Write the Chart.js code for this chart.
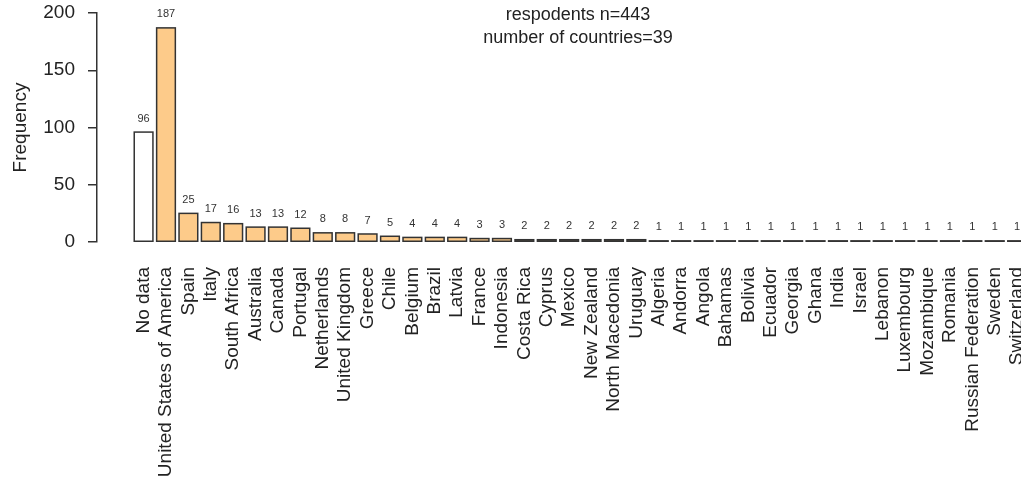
<!DOCTYPE html>
<html>
<head>
<meta charset="utf-8">
<title>Respondents by country</title>
<script src="https://cdn.jsdelivr.net/npm/chart.js@4.4.1/dist/chart.umd.min.js"></script>
<style>
  html, body { margin: 0; padding: 0; background: #fff; overflow: hidden; }
  #wrap { width: 1100px; height: 477px; }
</style>
</head>
<body>
<div id="wrap"><canvas id="countryChart" width="1100" height="477"></canvas></div>
<script>
const categories = [
  "No data", "United States of America", "Spain", "Italy", "South Africa",
  "Australia", "Canada", "Portugal", "Netherlands", "United Kingdom",
  "Greece", "Chile", "Belgium", "Brazil", "Latvia", "France", "Indonesia",
  "Costa Rica", "Cyprus", "Mexico", "New Zealand", "North Macedonia",
  "Uruguay", "Algeria", "Andorra", "Angola", "Bahamas", "Bolivia", "Ecuador",
  "Georgia", "Ghana", "India", "Israel", "Lebanon", "Luxembourg",
  "Mozambique", "Romania", "Russian Federation", "Sweden", "Switzerland"
];
const counts = [
  96, 187, 25, 17, 16, 13, 13, 12, 8, 8, 7, 5, 4, 4, 4, 3, 3,
  2, 2, 2, 2, 2, 2, 1, 1, 1, 1, 1, 1, 1, 1, 1, 1, 1, 1, 1, 1, 1, 1, 1
];
const yTicks = [0, 50, 100, 150, 200];
const noteLines = ["respodents n=443", "number of countries=39"];

const FONT = "'Liberation Sans', Arial, sans-serif";
const barColors = categories.map(c => c === "No data" ? "#ffffff" : "#fdcb8a");

// outline every bar (Chart.js shrinks borders on very short bars) and put the value above it
const barOutlines = {
  id: "barOutlines",
  afterDatasetsDraw(chart) {
    const ctx = chart.ctx;
    const meta = chart.getDatasetMeta(0);
    ctx.save();
    ctx.strokeStyle = "#333";
    ctx.lineWidth = 1.5;
    meta.data.forEach(bar => {
      ctx.strokeRect(bar.x - bar.width / 2, bar.y, bar.width, bar.base - bar.y);
    });
    ctx.font = "11px " + FONT;
    ctx.fillStyle = "#333";
    ctx.textAlign = "center";
    ctx.textBaseline = "bottom";
    meta.data.forEach((bar, i) => {
      ctx.fillText(String(counts[i]), bar.x, bar.y - 8);
    });
    ctx.restore();
  }
};

// two-line note at the top
const note = {
  id: "note",
  afterDraw(chart) {
    const ctx = chart.ctx;
    ctx.save();
    ctx.font = "18px " + FONT;
    ctx.fillStyle = "#222";
    ctx.textAlign = "center";
    ctx.textBaseline = "middle";
    noteLines.forEach((line, i) => ctx.fillText(line, 578, 15 + i * 23));
    ctx.restore();
  }
};

const canvas = document.getElementById("countryChart");
new Chart(canvas.getContext("2d"), {
  type: "bar",
  data: {
    datasets: [{
      data: counts.map((v, i) => ({ x: i, y: v })),
      backgroundColor: barColors,
      borderWidth: 0,
      categoryPercentage: 1,
      barPercentage: 0.835
    }]
  },
  options: {
    responsive: false,
    animation: false,
    layout: { padding: { top: 13, left: 0, right: 0, bottom: 0 } },
    plugins: {
      legend: { display: false },
      tooltip: { enabled: false }
    },
    scales: {
      x: {
        type: "linear",
        min: -2.08,
        max: 42.7,
        offset: false,
        grid: { display: false, offset: false },
        border: { display: false },
        afterBuildTicks: axis => { axis.ticks = categories.map((c, i) => ({ value: i })); },
        afterFit: axis => { axis.height = 235; },
        ticks: {
          autoSkip: false,
          minRotation: 90,
          maxRotation: 90,
          padding: 17,
          color: "#222",
          font: { family: FONT, size: 19 },
          callback: value => categories[value] || ""
        }
      },
      y: {
        min: yTicks[0],
        max: yTicks[yTicks.length - 1],
        afterBuildTicks: axis => { axis.ticks = yTicks.map(v => ({ value: v })); },
        afterFit: axis => {
          axis.width = 97;
          axis.paddingTop = 0;
          axis.paddingBottom = 0;
        },
        border: { display: true, color: "#333", width: 1.5 },
        grid: {
          display: true,
          drawOnChartArea: false,
          drawTicks: true,
          tickLength: 9,
          color: "#333",
          lineWidth: 1.5
        },
        ticks: {
          padding: 13,
          color: "#222",
          font: { family: FONT, size: 19 }
        },
        title: {
          display: true,
          text: "Frequency",
          color: "#222",
          font: { family: FONT, size: 19 },
          padding: { top: 9, bottom: 0 }
        }
      }
    }
  },
  plugins: [barOutlines, note]
});
</script>
</body>
</html>
